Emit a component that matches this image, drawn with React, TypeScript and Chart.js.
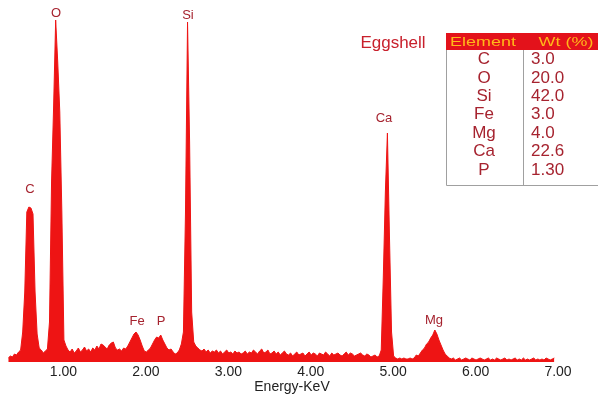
import { useEffect, useRef } from "react";
import { Chart, registerables } from "chart.js";
Chart.register(...registerables);

// EDS spectrum: channel start / width (keV) and counts per channel
const startKeV = 0.33;
const stepKeV = 0.025;
const counts = [
  4, 6, 5, 8, 7, 10, 12, 30, 70, 150,
  155, 154, 148, 70, 28, 14, 12, 9, 11, 13,
  40, 180, 255, 342, 300, 250, 150, 22, 16, 12,
  10, 13, 9, 11, 14, 10, 12, 15, 11, 13,
  10, 14, 12, 16, 13, 18, 17, 15, 13, 17,
  19, 20, 14, 12, 13, 11, 14, 13, 16, 20,
  24, 28, 30, 27, 22, 16, 11, 10, 12, 14,
  18, 22, 25, 24, 27, 22, 18, 14, 12, 13,
  10, 8, 9, 12, 18, 30, 150, 340, 220, 50,
  20, 16, 14, 12, 11, 13, 10, 12, 9, 11,
  10, 12, 9, 11, 8, 10, 12, 9, 10, 8,
  11, 9, 10, 8, 9, 11, 8, 10, 9, 12,
  10, 8, 11, 13, 9, 10, 12, 8, 9, 11,
  8, 10, 7, 9, 11, 8, 7, 9, 6, 8,
  10, 7, 8, 9, 6, 8, 10, 7, 9, 8,
  6, 9, 8, 7, 10, 8, 6, 9, 7, 8,
  9, 7, 6, 8, 10, 7, 9, 8, 6, 7,
  8, 9, 7, 6, 8, 7, 5, 6, 7, 5,
  6, 12, 85, 170, 229, 125, 30, 6, 4, 3,
  4, 3, 4, 3, 3, 4, 3, 4, 7, 6,
  9, 12, 14, 18, 20, 24, 27, 32, 28, 22,
  17, 12, 8, 6, 4, 3, 4, 2, 3, 4,
  2, 3, 4, 3, 2, 4, 3, 2, 3, 4,
  3, 2, 3, 4, 2, 3, 2, 4, 3, 2,
  3, 4, 2, 3, 2, 3, 4, 2, 3, 2,
  4, 2, 3, 2, 3, 4, 2, 3, 2, 3,
  2, 4, 3, 2, 3, 4,
];
const energies = counts.map((_, i) => +(startKeV + i * stepKeV).toFixed(3));

const tickValues = [1, 2, 3, 4, 5, 6, 7];
const xTitle = "Energy-KeV";

const peakLabels = ["C", "O", "Si", "Fe", "P", "Ca", "Mg"];
const peakLabelKeV = [0.593, 0.909, 2.51, 1.892, 2.183, 4.889, 5.495];
const peakLabelCounts = [173, 349, 347, 41, 41, 244, 42];

const sampleName = "Eggshell";
const tableHeader = ["Element", "Wt (%)"];
const tableElements = ["C", "O", "Si", "Fe", "Mg", "Ca", "P"];
const tableWt = ["3.0", "20.0", "42.0", "3.0", "4.0", "22.6", "1.30"];

const FONT = "'Liberation Sans', Arial, sans-serif";
const RED = "#ee1414";
const LABEL_RED = "#a6232f";

const overlayPlugin = {
  id: "overlay",
  afterDraw(chart: any) {
    const ctx = chart.ctx as CanvasRenderingContext2D;
    const xs = chart.scales.x;
    const ys = chart.scales.y;
    ctx.save();
    // peak labels
    ctx.font = `13px ${FONT}`;
    ctx.fillStyle = LABEL_RED;
    ctx.textAlign = "center";
    ctx.textBaseline = "middle";
    peakLabels.forEach((lab, i) => {
      ctx.fillText(lab, xs.getPixelForValue(peakLabelKeV[i]), ys.getPixelForValue(peakLabelCounts[i]));
    });
    // sample name
    ctx.font = `17px ${FONT}`;
    ctx.fillStyle = "#c8202c";
    ctx.fillText(sampleName, 393, 43);
    // table header
    ctx.fillStyle = "#e3121b";
    ctx.fillRect(446, 33, 152, 17);
    ctx.fillStyle = "#ffb81a";
    ctx.font = `13px ${FONT}`;
    const hdrX = [483, 566];
    tableHeader.forEach((h, i) => {
      ctx.save();
      ctx.translate(hdrX[i], 42);
      ctx.scale(1.38, 1);
      ctx.fillText(h, 0, 0);
      ctx.restore();
    });
    // borders
    ctx.strokeStyle = "#a0a0a0";
    ctx.lineWidth = 1;
    ctx.beginPath();
    ctx.moveTo(446.5, 50);
    ctx.lineTo(446.5, 185.5);
    ctx.lineTo(598, 185.5);
    ctx.moveTo(523.5, 50);
    ctx.lineTo(523.5, 185.5);
    ctx.stroke();
    // rows
    ctx.font = `17px ${FONT}`;
    ctx.fillStyle = LABEL_RED;
    tableElements.forEach((el, i) => {
      const y = 59.5 + i * 18.4;
      ctx.textAlign = "center";
      ctx.fillText(el, 484, y);
      ctx.textAlign = "left";
      ctx.fillText(tableWt[i], 531, y);
    });
    ctx.restore();
  },
};

export default function App() {
  const ref = useRef<HTMLCanvasElement | null>(null);
  useEffect(() => {
    if (!ref.current) return;
    const chart = new Chart(ref.current, {
      type: "line",
      data: {
        datasets: [
          {
            data: energies.map((e, i) => ({ x: e, y: counts[i] })),
            borderColor: RED,
            backgroundColor: RED,
            borderWidth: 1,
            pointRadius: 0,
            tension: 0,
            fill: "origin",
          },
        ],
      },
      options: {
        animation: false,
        responsive: true,
        maintainAspectRatio: false,
        layout: { padding: { left: 0, right: 14, top: 0, bottom: 0 } },
        plugins: { legend: { display: false }, tooltip: { enabled: false } },
        scales: {
          x: {
            type: "linear",
            min: 0.2296,
            max: 7.315,
            grid: { display: false, drawTicks: false },
            border: { display: false },
            afterBuildTicks: (scale: any) => {
              scale.ticks = tickValues.map((v) => ({ value: v }));
            },
            afterFit: (scale: any) => {
              scale.height = 36;
            },
            ticks: {
              padding: 2,
              color: "#222",
              font: { family: FONT, size: 14 },
              callback: (v: any) => Number(v).toFixed(2),
              maxRotation: 0,
              autoSkip: false,
            },
            title: {
              display: true,
              text: xTitle,
              color: "#222",
              font: { family: FONT, size: 14 },
              padding: { top: 0, bottom: 2 },
            },
          },
          y: { display: false, min: 0, max: 362 },
        },
      },
      plugins: [overlayPlugin],
    });
    return () => chart.destroy();
  }, []);
  return (
    <div style={{ position: "fixed", left: 0, top: 0, width: 598, height: 398, background: "#fff" }}>
      <canvas ref={ref} />
    </div>
  );
}
